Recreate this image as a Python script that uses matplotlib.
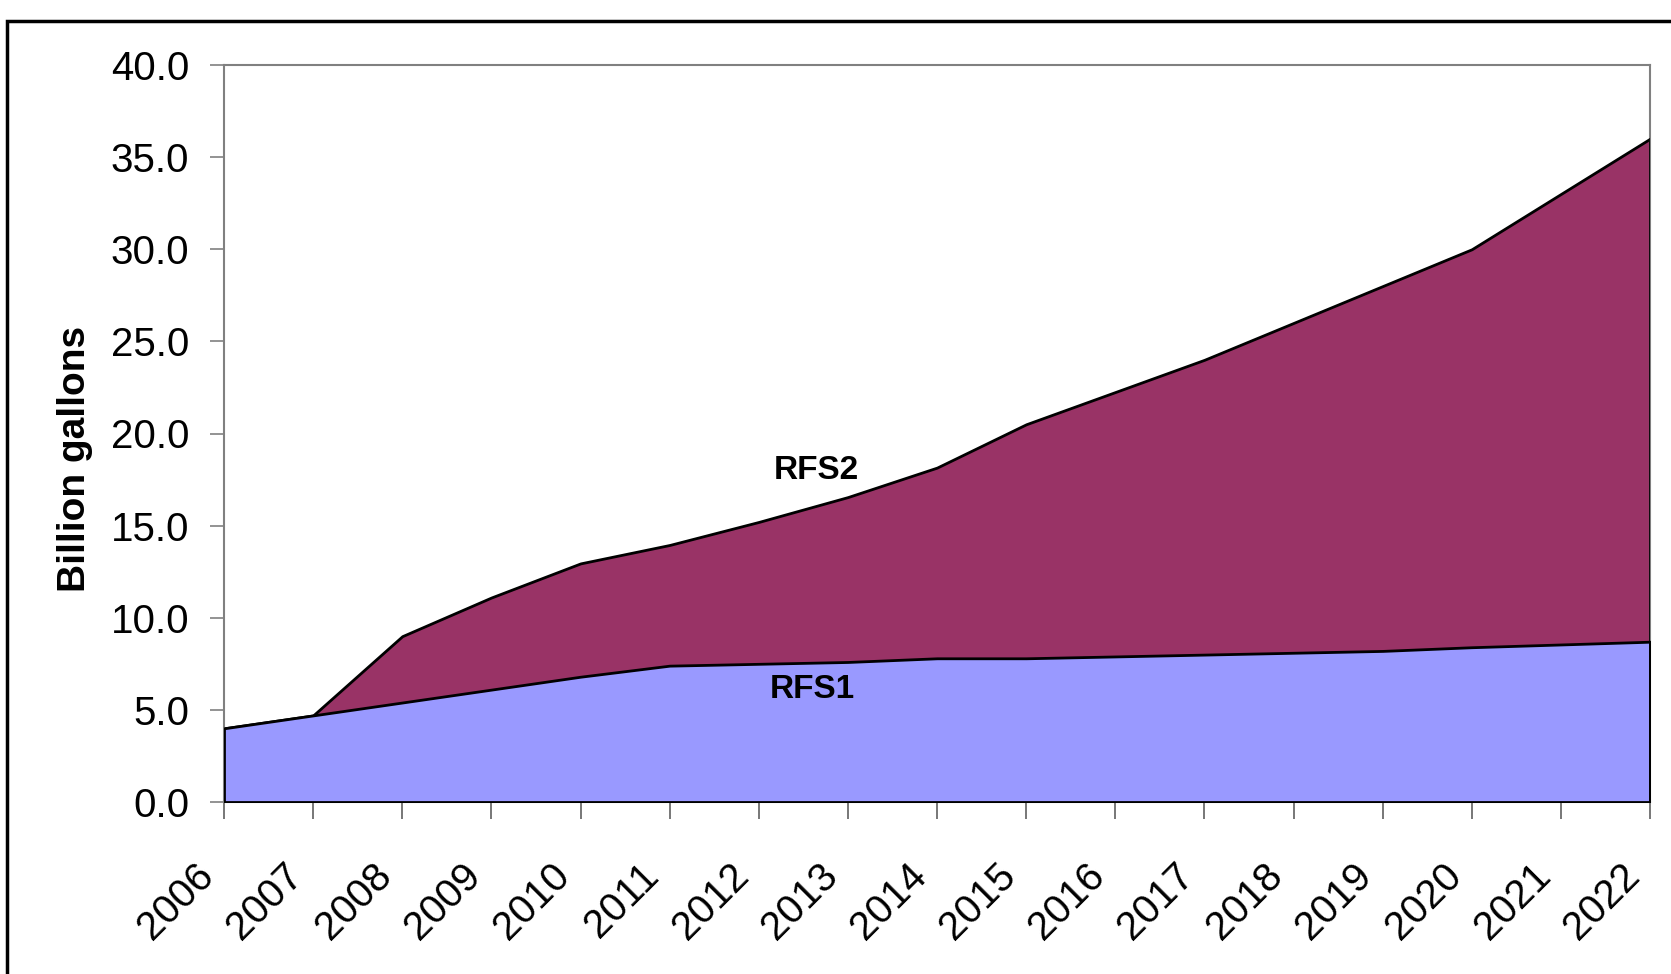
import matplotlib.pyplot as plt
from matplotlib.patches import Rectangle
from matplotlib.transforms import ScaledTranslation

plt.rcParams['font.family'] = ['Liberation Sans', 'DejaVu Sans']

# --- data (billion gallons) ---
years = [2006, 2007, 2008, 2009, 2010, 2011, 2012, 2013, 2014,
         2015, 2016, 2017, 2018, 2019, 2020, 2021, 2022]
rfs1 = [4.0, 4.7, 5.4, 6.1, 6.8, 7.4, 7.5, 7.6, 7.8,
        7.8, 7.9, 8.0, 8.1, 8.2, 8.4, 8.55, 8.7]
rfs2 = [4.0, 4.7, 9.0, 11.1, 12.95, 13.95, 15.2, 16.55, 18.15,
        20.5, 22.25, 24.0, 26.0, 28.0, 30.0, 33.0, 36.0]
y_ticks = [0, 5, 10, 15, 20, 25, 30, 35, 40]

fig = plt.figure(figsize=(16.71, 9.74), dpi=100)
ax = fig.add_axes([224 / 1671, 1 - 802 / 974, (1650 - 224) / 1671, (802 - 65) / 974])

# outer chart frame (runs off the right and bottom edges)
fig.patches.append(Rectangle((7 / 1671, -0.1), 1.2, 1 - 21 / 974 + 0.1,
                             transform=fig.transFigure, fill=False,
                             edgecolor='black', linewidth=2.5))

ax.fill_between(years, 0, rfs2, color='#993366', edgecolor='black', linewidth=2, zorder=2)
ax.fill_between(years, 0, rfs1, color='#9999FF', edgecolor='black', linewidth=2, zorder=3)
ax.plot([years[-1], years[-1]], [0, rfs2[-1]], color='black', linewidth=2, zorder=4)

ax.set_xlim(years[0], years[-1])
ax.set_ylim(0, 40)
ax.set_yticks(y_ticks)
ax.set_yticklabels([f'{v:.1f}' for v in y_ticks], fontsize=29)
ax.set_xticks(years)
ax.set_xticklabels([])

# year labels drawn by hand so they can sit left of their ticks
off = ax.get_xaxis_transform() + ScaledTranslation(-0.30, -0.54, fig.dpi_scale_trans)
for yr in years:
    ax.text(yr, 0, str(yr), transform=off, rotation=45, ha='right', va='top',
            rotation_mode='anchor', fontsize=29, clip_on=False)

for s in ax.spines.values():
    s.set_color('#808080')
    s.set_linewidth(1.5)
ax.tick_params(axis='y', direction='out', length=10, width=1.2, color='#808080', pad=15)
ax.tick_params(axis='x', direction='out', length=12, width=1.2, color='#606060')

ax.set_ylabel('Billion gallons', fontsize=28, fontweight='bold')
ax.yaxis.set_label_coords(-0.092, 0.466)

ax.text(2012.65, 18.0, 'RFS2', fontsize=24, fontweight='bold', ha='center', va='center', zorder=5)
ax.text(2012.6, 6.1, 'RFS1', fontsize=24, fontweight='bold', ha='center', va='center', zorder=5)

fig.savefig('out.png', dpi=100)
